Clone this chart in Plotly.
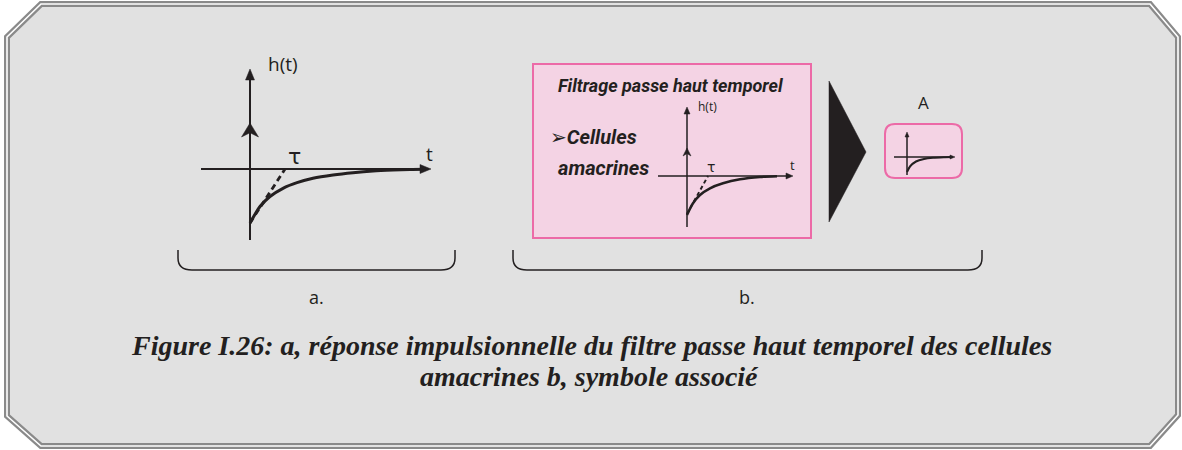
#!/usr/bin/env python3
"""
Figure I.26 - impulse response of the temporal high-pass filter (amacrine cells)
Rebuilt as a Plotly diagram on a pixel-coordinate canvas
"""

import plotly.graph_objects as go

W, H = 1182, 450
INK = "#231F20"
PINK_LINE = "#EC6AA7"
PINK_FILL = "#F4D3E4"
PANEL_FILL = "#E1E1E1"

# Curves (pixel coordinates of the canvas)
# panel a - large response
a_curve_x = [250, 260, 270, 283, 297, 313, 333, 353, 373, 393, 410, 425]
a_curve_y = [223, 206.5, 196.5, 188.3, 182.7, 178.3, 175, 172.7, 171, 170, 169.4, 169.2]
a_dash_x = [250, 285]
a_dash_y = [223, 169]

# panel b - response inside the pink box
b_curve_x = [687, 693, 700, 710, 723, 740, 760, 777]
b_curve_y = [215, 203.3, 195, 188.3, 183.3, 179.3, 177, 176.2]
b_dash_x = [687, 708]
b_dash_y = [214, 176]

# panel b - tiny symbol "A"
s_curve_x = [907, 910, 916, 924, 933, 945, 952]
s_curve_y = [172, 166.5, 161.5, 159, 157.8, 157.2, 157]

fig = go.Figure()


def add_line(xs, ys, width, dash="solid", shape="spline"):
    fig.add_trace(go.Scatter(
        x=xs, y=ys, mode="lines",
        line=dict(color=INK, width=width, dash=dash, shape=shape, smoothing=0.8),
        hoverinfo="skip", showlegend=False
    ))


def axes(x0, x_left, x_right, y0, y_top, y_bot, width, head, imp_y=None, imp_head=None):
    """Draw a pair of arrowed axes, optional impulse arrow"""
    add_line([x0, x0], [y_bot, y_top + head[1] * 0.5], width, shape="linear")
    add_line([x_left, x_right - head[1] * 0.5], [y0, y0], width, shape="linear")
    shapes = [
        # vertical arrow head
        dict(type="path", path=f"M{x0},{y_top} L{x0 - head[0]},{y_top + head[1]} L{x0 + head[0]},{y_top + head[1]} Z"),
        # horizontal arrow head
        dict(type="path", path=f"M{x_right},{y0} L{x_right - head[1]},{y0 - head[0]} L{x_right - head[1]},{y0 + head[0]} Z"),
    ]
    if imp_y is not None:
        hw, hh = imp_head
        shapes.append(dict(type="path",
                           path=f"M{x0},{imp_y} L{x0 - hw},{imp_y + hh} L{x0},{imp_y + hh * 0.7} L{x0 + hw},{imp_y + hh} Z"))
    for s in shapes:
        s.update(xref="x", yref="y", fillcolor=INK, line=dict(color=INK, width=0.5), layer="above")
        fig.add_shape(**s)


# --- background octagon frame ---
octa = "M41,4 L1150,4 L1178,37 L1178,415 L1150,446 L41,446 L7,416 L7,37 Z"
fig.add_shape(type="path", path=octa, xref="x", yref="y", fillcolor=PANEL_FILL,
              line=dict(color="#8A8A8A", width=6), layer="below")
fig.add_shape(type="path", path=octa, xref="x", yref="y",
              line=dict(color="#FFFFFF", width=1.6), layer="below")

# --- pink boxes and big arrow ---
fig.add_shape(type="rect", x0=533, y0=64, x1=811, y1=238, xref="x", yref="y",
              fillcolor=PINK_FILL, line=dict(color=PINK_LINE, width=2), layer="below")
fig.add_shape(type="path",
              path="M895,124 L952,124 Q962,124 962,134 L962,168 Q962,178 952,178 L895,178 Q885,178 885,168 L885,134 Q885,124 895,124 Z",
              xref="x", yref="y", fillcolor=PINK_FILL, line=dict(color=PINK_LINE, width=2), layer="below")
fig.add_shape(type="path", path="M829,81 L866,152 L829,222 Z", xref="x", yref="y",
              fillcolor=INK, line=dict(color=INK, width=0.5))

# --- braces ---
for bx0, bx1 in [(178, 455), (513, 982)]:
    fig.add_shape(type="path",
                  path=f"M{bx0},250 L{bx0},258 Q{bx0},270 {bx0 + 14},270 L{bx1 - 14},270 Q{bx1},270 {bx1},258 L{bx1},250",
                  xref="x", yref="y", line=dict(color=INK, width=1.5))

# --- panel a ---
axes(250, 201, 431, 169, 69, 240, 2, (4.5, 11), imp_y=123, imp_head=(8.5, 14))
add_line(a_dash_x, a_dash_y, 2.8, dash="6px,4px", shape="linear")
add_line(a_curve_x, a_curve_y, 3)

# --- panel b ---
axes(687, 658, 793, 176, 107, 227, 1.5, (3, 7), imp_y=148, imp_head=(4, 8))
add_line(b_dash_x, b_dash_y, 2, dash="4px,3px", shape="linear")
add_line(b_curve_x, b_curve_y, 2.5)

axes(907, 894, 955, 157, 132, 175, 1.5, (2, 5))
add_line(s_curve_x, s_curve_y, 2)

# --- texts ---
SANS = "Open Sans"
BOLD_IT = "Roboto"
notes = [
    dict(x=283, y=64, text="h(t)", font=dict(family=SANS, size=19, color=INK)),
    dict(x=294, y=156, text="τ", font=dict(family="DejaVu Sans", size=22, color=INK)),
    dict(x=429, y=154, text="t", font=dict(family=SANS, size=19, color=INK)),
    dict(x=707, y=106, text="h(t)", font=dict(family=SANS, size=12, color=INK)),
    dict(x=711, y=167, text="τ", font=dict(family="DejaVu Sans", size=14, color=INK)),
    dict(x=792, y=165, text="t", font=dict(family=SANS, size=13, color=INK)),
    dict(x=923, y=102, text="A", font=dict(family=SANS, size=17, color=INK)),
    dict(x=670, y=85, text="<b><i>Filtrage passe haut temporel</i></b>",
         font=dict(family=BOLD_IT, size=18, color=INK)),
    dict(x=548, y=137, xanchor="left", text="<span style='font-family:DejaVu Sans'>➢</span><b><i>Cellules</i></b>",
         font=dict(family=BOLD_IT, size=20, color=INK)),
    dict(x=556, y=168, xanchor="left", text="<b><i>amacrines</i></b>",
         font=dict(family=BOLD_IT, size=20, color=INK)),
    dict(x=316, y=297, text="a.", font=dict(family=SANS, size=18, color=INK)),
    dict(x=747, y=297, text="b.", font=dict(family=SANS, size=18, color=INK)),
    dict(x=591, y=345,
         text="<b><i>Figure I.26: a, réponse impulsionnelle du filtre passe haut temporel des cellules</i></b>",
         font=dict(family="Liberation Serif", size=28, color=INK)),
    dict(x=589, y=376, text="<b><i>amacrines b, symbole associé</i></b>",
         font=dict(family="Liberation Serif", size=28, color=INK)),
]
for n in notes:
    n.setdefault("xanchor", "center")
    fig.add_annotation(xref="x", yref="y", yanchor="middle", showarrow=False, **n)

fig.update_layout(
    width=W, height=H,
    margin=dict(l=0, r=0, t=0, b=0),
    paper_bgcolor="white", plot_bgcolor="white",
    xaxis=dict(range=[0, W], visible=False, fixedrange=True),
    yaxis=dict(range=[H, 0], visible=False, fixedrange=True),
    showlegend=False
)

# drop the default page margin so the canvas starts at the window corner
fig.write_html("out.html", config={"displayModeBar": False},
               post_script="document.body.style.margin='0';")
